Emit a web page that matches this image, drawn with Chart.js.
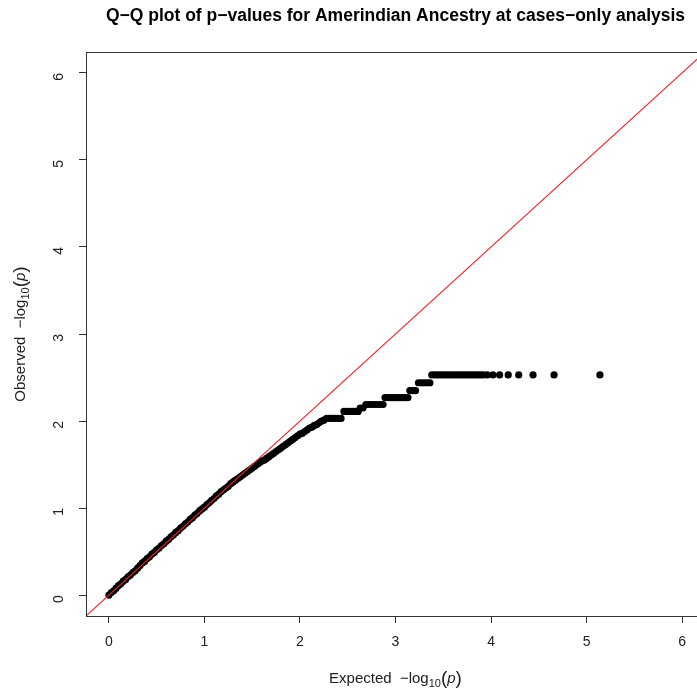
<!DOCTYPE html>
<html>
<head>
<meta charset="utf-8">
<script src="https://cdn.jsdelivr.net/npm/chart.js@4.4.0/dist/chart.umd.min.js"></script>
<style>
  html, body { margin: 0; padding: 0; background: #fff; overflow: hidden; }
  #caixa { width: 720px; height: 692px; }
</style>
</head>
<body>
<div id="caixa"><canvas id="qqChart" width="720" height="692"></canvas></div>
<script>
var esperado = [
    0.000, 0.025, 0.050, 0.075, 0.100, 0.125, 0.150, 0.175, 0.200, 0.225,
    0.250, 0.275, 0.300, 0.325, 0.350, 0.375, 0.400, 0.425, 0.450, 0.475,
    0.500, 0.525, 0.550, 0.575, 0.600, 0.625, 0.650, 0.675, 0.700, 0.725,
    0.750, 0.775, 0.800, 0.825, 0.850, 0.875, 0.900, 0.925, 0.950, 0.975,
    1.000, 1.025, 1.050, 1.075, 1.100, 1.125, 1.150, 1.175, 1.200, 1.225,
    1.250, 1.275, 1.300, 1.325, 1.350, 1.375, 1.400, 1.425, 1.450, 1.475,
    1.500, 1.525, 1.550, 1.575, 1.600, 1.625, 1.650, 1.675, 1.700, 1.725,
    1.750, 1.775, 1.800, 1.825, 1.850, 1.875, 1.900, 1.925, 1.950, 1.975,
    2.000, 2.025, 2.050, 2.075, 2.100, 2.125, 2.150, 2.175, 2.200, 2.225,
    2.250,
    2.28, 2.31, 2.34, 2.37, 2.40, 2.43,
    2.46, 2.49, 2.52, 2.55, 2.58, 2.61,
    2.63, 2.66,
    2.69, 2.72, 2.75, 2.78, 2.81, 2.84, 2.87,
    2.89, 2.92, 2.95, 2.98, 3.01, 3.04, 3.07, 3.10, 3.13,
    3.15, 3.18, 3.21,
    3.24, 3.27, 3.30, 3.33, 3.36,
    3.38, 3.41, 3.44, 3.47, 3.50, 3.53, 3.56, 3.59, 3.62, 3.65,
    3.68, 3.71, 3.74, 3.77, 3.80, 3.83, 3.86, 3.89, 3.92,
    3.96, 4.02, 4.09, 4.18, 4.29, 4.44, 4.66, 5.14
]
var observado = [
    0.00, 0.03, 0.05, 0.08, 0.11, 0.13, 0.16, 0.18, 0.21, 0.23,
    0.26, 0.28, 0.31, 0.34, 0.37, 0.39, 0.42, 0.44, 0.47, 0.49,
    0.52, 0.54, 0.57, 0.59, 0.62, 0.64, 0.67, 0.69, 0.72, 0.74,
    0.77, 0.79, 0.82, 0.84, 0.87, 0.89, 0.92, 0.94, 0.97, 0.99,
    1.01, 1.04, 1.06, 1.09, 1.11, 1.14, 1.16, 1.19, 1.21, 1.23,
    1.25, 1.28, 1.30, 1.32, 1.34, 1.36, 1.38, 1.40, 1.42, 1.44,
    1.46, 1.48, 1.50, 1.52, 1.54, 1.55, 1.57, 1.59, 1.61, 1.63,
    1.65, 1.67, 1.69, 1.71, 1.73, 1.75, 1.77, 1.79, 1.81, 1.83,
    1.85, 1.86, 1.88, 1.90, 1.92, 1.93, 1.95, 1.96, 1.98, 2.00,
    2.01,
    2.03, 2.03, 2.03, 2.03, 2.03, 2.03,
    2.11, 2.11, 2.11, 2.11, 2.11, 2.11,
    2.15, 2.15,
    2.19, 2.19, 2.19, 2.19, 2.19, 2.19, 2.19,
    2.27, 2.27, 2.27, 2.27, 2.27, 2.27, 2.27, 2.27, 2.27,
    2.35, 2.35, 2.35,
    2.44, 2.44, 2.44, 2.44, 2.44,
    2.53, 2.53, 2.53, 2.53, 2.53, 2.53, 2.53, 2.53, 2.53, 2.53,
    2.53, 2.53, 2.53, 2.53, 2.53, 2.53, 2.53, 2.53, 2.53,
    2.53, 2.53, 2.53, 2.53, 2.53, 2.53, 2.53, 2.53
]
// linha de referencia y = x
var linhaX = [-1, 7]
var ticksX = [0, 1, 2, 3, 4, 5, 6]
var ticksY = [0, 1, 2, 3, 4, 5, 6]

var titulo = 'Q\u2212Q plot of p\u2212values for Amerindian Ancestry at cases\u2212only analysis'
var FONTE = '"Liberation Sans", Arial, Helvetica, sans-serif'

var pontos = []
for (var i = 0; i < esperado.length; i++) {
    pontos.push({ x: esperado[i], y: observado[i] })
}
var linha = linhaX.map(function (v) { return { x: v, y: v } })

// titulo de eixo com o subscrito 10
function rotuloEixo(ctx, inicio) {
    var partes = [
        { t: inicio + '  \u2212log', f: '15px ' + FONTE, dy: 0 },
        { t: '10', f: '11px ' + FONTE, dy: 4 },
        { t: '(', f: '19px ' + FONTE, dy: 1 },
        { t: 'p', f: 'italic 15px ' + FONTE, dy: 0 },
        { t: ')', f: '19px ' + FONTE, dy: 1 }
    ]
    var total = 0
    partes.forEach(function (p) { ctx.font = p.f; p.w = ctx.measureText(p.t).width; total += p.w })
    var x = -total / 2
    partes.forEach(function (p) {
        ctx.font = p.f
        ctx.fillText(p.t, x, p.dy)
        x += p.w
    })
}

var molduraPlugin = {
    id: 'moldura',
    afterDraw: function (chart) {
        var ctx = chart.ctx
        var a = chart.chartArea
        ctx.save()
        ctx.strokeStyle = '#333'
        ctx.lineWidth = 1
        ctx.strokeRect(a.left + 0.5, a.top + 0.5, a.right - a.left, a.bottom - a.top)
        ctx.fillStyle = '#222'
        ctx.textBaseline = 'alphabetic'
        ctx.translate((a.left + a.right) / 2, 683)
        rotuloEixo(ctx, 'Expected')
        ctx.restore()

        ctx.save()
        ctx.fillStyle = '#222'
        ctx.textBaseline = 'alphabetic'
        ctx.translate(25, (a.top + a.bottom) / 2)
        ctx.rotate(-Math.PI / 2)
        rotuloEixo(ctx, 'Observed')
        ctx.restore()
    }
}

const ctx = document.getElementById('qqChart')

new Chart(ctx, {
    type: 'scatter',
    data: {
        datasets: [{
            type: 'line',
            data: linha,
            borderColor: '#e8262b',
            borderWidth: 1.1,
            pointRadius: 0,
            fill: false,
            order: 0
        }, {
            data: pontos,
            backgroundColor: '#000',
            borderWidth: 0,
            pointRadius: 3.6,
            order: 1
        }]
    },
    options: {
        responsive: false,
        animation: false,
        events: [],
        layout: { padding: { left: 0, right: 15, top: 0, bottom: 0 } },
        plugins: {
            legend: { display: false },
            tooltip: { enabled: false },
            title: {
                display: true,
                text: titulo,
                fullSize: false,
                color: '#000',
                font: { family: FONTE, size: 17.5, weight: 'bold', lineHeight: 1.2 },
                padding: { top: 6, bottom: 25 }
            }
        },
        scales: {
            x: {
                type: 'linear',
                min: -0.24,
                max: 6.24,
                afterBuildTicks: function (scale) {
                    scale.ticks = ticksX.map(function (v) { return { value: v } })
                },
                afterFit: function (scale) { scale.height = 76 },
                grid: { drawOnChartArea: false, drawTicks: true, tickLength: 7, color: '#333' },
                border: { display: true, color: '#333' },
                ticks: {
                    color: '#222',
                    padding: 11,
                    font: { family: FONTE, size: 14 }
                }
            },
            y: {
                type: 'linear',
                min: -0.24,
                max: 6.24,
                afterBuildTicks: function (scale) {
                    scale.ticks = ticksY.map(function (v) { return { value: v } })
                },
                afterFit: function (scale) { scale.width = 86 },
                grid: { drawOnChartArea: false, drawTicks: true, tickLength: 7, color: '#333' },
                border: { display: true, color: '#333' },
                ticks: {
                    color: '#222',
                    padding: 20,
                    minRotation: 90,
                    maxRotation: 90,
                    font: { family: FONTE, size: 14 }
                }
            }
        }
    },
    plugins: [molduraPlugin]
});
</script>
</body>
</html>
